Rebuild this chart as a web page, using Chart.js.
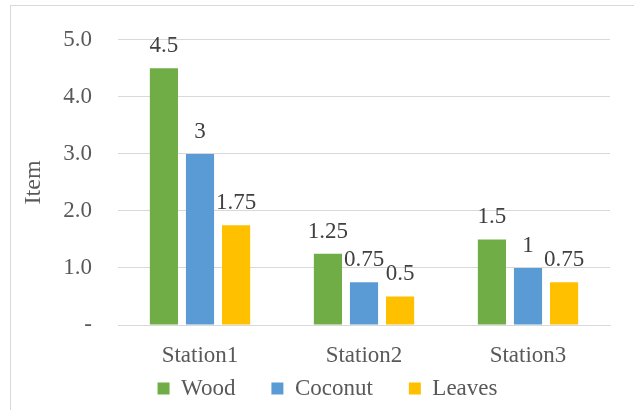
<!DOCTYPE html>
<html>
<head>
<meta charset="utf-8">
<script src="https://cdn.jsdelivr.net/npm/chart.js@4/dist/chart.umd.min.js"></script>
<style>
  html, body { margin: 0; padding: 0; background: #fff; }
  #wrap { position: relative; width: 634px; height: 410px; }
  .probe { font-family: "Liberation Serif"; position: absolute; left: -999px; }
</style>
</head>
<body>
<span class="probe">Station Wood Coconut Leaves 0123456789</span>
<div id="wrap"><canvas id="c" width="634" height="410"></canvas></div>
<script>
const stations = ['Station1', 'Station2', 'Station3'];
const wood = [4.5, 1.25, 1.5];
const coconut = [3, 0.75, 1];
const leaves = [1.75, 0.5, 0.75];
const yTicks = [0, 1, 2, 3, 4, 5];

const FONT = "'Liberation Serif', serif";
const SIZE = 23;

// Outer frame around the whole chart (runs off the right and bottom edges)
const framePlugin = {
  id: 'frame',
  beforeDraw(chart) {
    const ctx = chart.ctx;
    ctx.save();
    ctx.fillStyle = '#fff';
    ctx.fillRect(0, 0, chart.width, chart.height);
    ctx.strokeStyle = '#d9d9d9';
    ctx.lineWidth = 1;
    ctx.strokeRect(10.5, 5.5, 700, 500);
    ctx.restore();
  }
};

// Nudge the legend row a little to the right
const legendShift = {
  id: 'legendShift',
  afterLayout(chart) {
    if (chart.legend) {
      chart.legend.left += 13;
      chart.legend.right += 13;
    }
  }
};

// Value labels above each bar
const valueLabels = {
  id: 'valueLabels',
  afterDatasetsDraw(chart) {
    const ctx = chart.ctx;
    ctx.save();
    ctx.font = SIZE + 'px ' + FONT;
    ctx.fillStyle = '#404040';
    ctx.textAlign = 'center';
    ctx.textBaseline = 'alphabetic';
    chart.data.datasets.forEach((ds, i) => {
      chart.getDatasetMeta(i).data.forEach((bar, j) => {
        ctx.fillText(String(ds.data[j]), bar.x, bar.y - 16);
      });
    });
    ctx.restore();
  }
};

function draw() {
  new Chart(document.getElementById('c'), {
    type: 'bar',
    data: {
      labels: stations,
      datasets: [
        { label: 'Wood', data: wood, backgroundColor: '#70ad47' },
        { label: 'Coconut', data: coconut, backgroundColor: '#5b9bd5' },
        { label: 'Leaves', data: leaves, backgroundColor: '#ffc000' }
      ]
    },
    options: {
      responsive: false,
      animation: false,
      events: [],
      categoryPercentage: 0.66,
      barPercentage: 0.78,
      layout: { padding: { top: 38, right: 24, bottom: 0, left: 19 } },
      plugins: {
        legend: {
          position: 'bottom',
          labels: {
            font: { family: FONT, size: SIZE },
            color: '#595959',
            boxWidth: 12,
            boxHeight: 12,
            padding: 36
          }
        },
        tooltip: { enabled: false }
      },
      scales: {
        x: {
          grid: { display: false },
          border: { display: true, color: '#d9d9d9', width: 1 },
          ticks: { font: { family: FONT, size: SIZE }, color: '#595959', padding: 9 },
          afterFit(scale) {
            scale.height = 16;
            // let the category labels run into the legend band
            scale._computeLabelArea = () => null;
          }
        },
        y: {
          min: 0,
          max: 5,
          afterBuildTicks(scale) { scale.ticks = yTicks.map(v => ({ value: v })); },
          grid: { color: '#d9d9d9', lineWidth: 1, drawTicks: false },
          border: { display: false },
          ticks: {
            font: { family: FONT, size: SIZE },
            color: '#595959',
            padding: 26,
            callback: v => (v === 0 ? '-' : v.toFixed(1))
          },
          title: {
            display: true,
            text: 'Item',
            font: { family: FONT, size: 24 },
            color: '#595959',
            padding: 0
          },
          afterFit(scale) { scale.width = 99; }
        }
      }
    },
    plugins: [framePlugin, legendShift, valueLabels]
  });
}

document.fonts.load("23px 'Liberation Serif'").then(draw, draw);
</script>
</body>
</html>
